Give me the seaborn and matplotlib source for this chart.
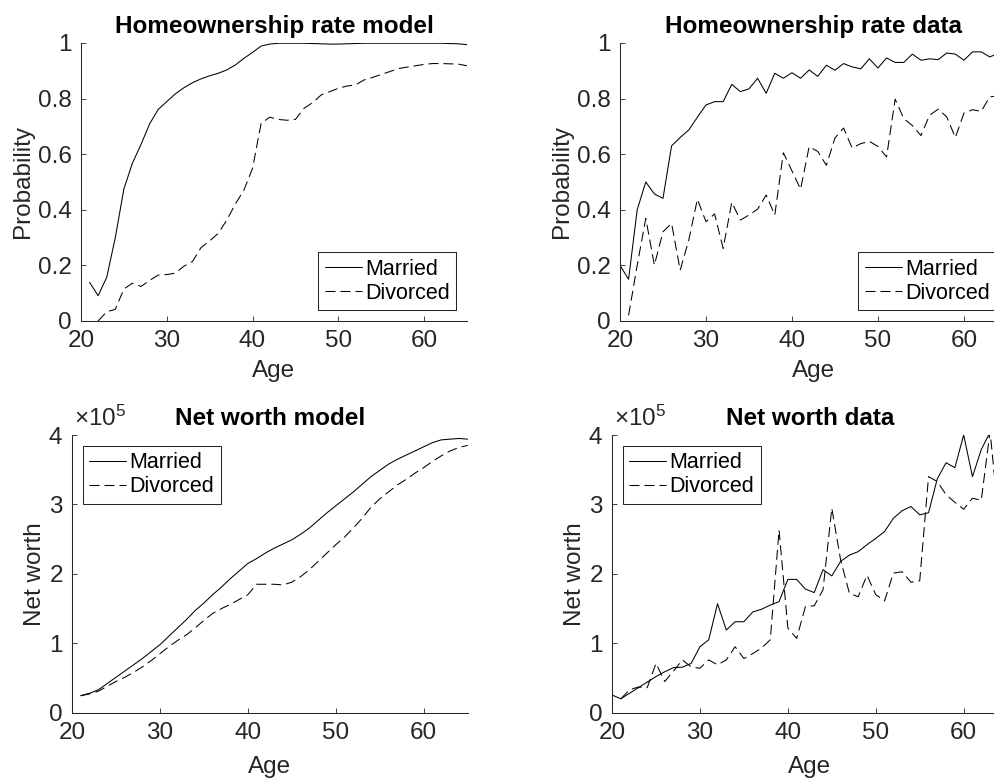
import numpy as np
import pandas as pd
import matplotlib
matplotlib.use("Agg")
import matplotlib.pyplot as plt
import matplotlib.transforms as mtransforms
import seaborn as sns

# ---- data -------------------------------------------------------------
ages_model = list(range(21, 66))

own_model_married = [0.139, 0.091, 0.157, 0.30, 0.475, 0.568, 0.635, 0.709, 0.761, 0.789,
                     0.817, 0.839, 0.857, 0.871, 0.882, 0.891, 0.903, 0.921, 0.945, 0.966,
                     0.989, 0.996, 0.999, 0.999, 0.999, 0.999, 0.998, 0.997, 0.996, 0.996,
                     0.997, 0.998, 0.999, 0.999, 0.999, 0.999, 0.999, 0.999, 0.999, 0.999,
                     0.999, 0.999, 0.998, 0.997, 0.994]
ages_own_model_div = list(range(22, 66))
own_model_divorced = [0.0, 0.033, 0.042, 0.115, 0.136, 0.124, 0.146, 0.165, 0.167, 0.172,
                      0.197, 0.214, 0.264, 0.288, 0.315, 0.363, 0.421, 0.471, 0.549, 0.711,
                      0.733, 0.725, 0.722, 0.725, 0.765, 0.785, 0.813, 0.825, 0.837, 0.845,
                      0.849, 0.867, 0.876, 0.887, 0.897, 0.908, 0.913, 0.918, 0.923, 0.926,
                      0.926, 0.925, 0.924, 0.918]

ages_data_married = list(range(20, 66))
own_data_married = [0.20, 0.15, 0.40, 0.50, 0.457, 0.441, 0.63, 0.66, 0.687, 0.733,
                    0.777, 0.789, 0.789, 0.851, 0.825, 0.835, 0.873, 0.819, 0.891, 0.873,
                    0.893, 0.873, 0.903, 0.88, 0.92, 0.902, 0.926, 0.914, 0.907, 0.943,
                    0.91, 0.946, 0.93, 0.93, 0.96, 0.938, 0.943, 0.94, 0.964, 0.96,
                    0.938, 0.968, 0.968, 0.95, 0.962, 0.955]
ages_data_divorced = list(range(21, 66))
own_data_divorced = [0.02, 0.20, 0.369, 0.201, 0.321, 0.351, 0.183, 0.291, 0.438, 0.357,
                     0.385, 0.261, 0.427, 0.363, 0.381, 0.402, 0.453, 0.381, 0.605, 0.54,
                     0.474, 0.627, 0.61, 0.56, 0.658, 0.694, 0.622, 0.638, 0.646, 0.628,
                     0.59, 0.798, 0.728, 0.703, 0.667, 0.74, 0.762, 0.734, 0.66, 0.748,
                     0.76, 0.754, 0.806, 0.81, 0.80]

nw_model_married = [24500, 28000, 33000, 42000, 51000, 60000, 69000, 78000, 88000, 98000,
                    110000, 122000, 134000, 147000, 158000, 170000, 181000, 193000, 204000, 215000,
                    222000, 230000, 237000, 243000, 249000, 257000, 266000, 277000, 288000, 298000,
                    308000, 318000, 329000, 340000, 349000, 358000, 365000, 371000, 377000, 383000,
                    389000, 393000, 394000, 395000, 394000]
nw_model_divorced = [24500, 27000, 31000, 38000, 45000, 51000, 58000, 66000, 75000, 85000,
                     95000, 104000, 112000, 122000, 133000, 143000, 150000, 156000, 163000, 170000,
                     185000, 185000, 185000, 184000, 188000, 196000, 206000, 218000, 230000, 242000,
                     253000, 266000, 280000, 296000, 308000, 318000, 328000, 336000, 345000, 353000,
                     362000, 370000, 377000, 382000, 385000]

nw_data_married = [25500, 20000, 28000, 36000, 44000, 52000, 59000, 65000, 65500, 71000,
                   95000, 105000, 157000, 119000, 131000, 131000, 145000, 149000, 155000, 160000,
                   192000, 192000, 178000, 173000, 206000, 197000, 218000, 227000, 232000, 242000,
                   251000, 261000, 280000, 291000, 297000, 285000, 288000, 337000, 360000, 353000,
                   400000, 340000, 379000, 404000, 420000, 410000]
nw_data_divorced = [20000, 33000, 37000, 36000, 71000, 45000, 60000, 76000, 66000, 64000,
                    76000, 69000, 76000, 95000, 78000, 85000, 93000, 105000, 263000, 122000,
                    107000, 153000, 154000, 177000, 294500, 220000, 172000, 167000, 198000, 170000,
                    161000, 201000, 203000, 188000, 190000, 340000, 333000, 314000, 303000, 293000,
                    309000, 306000, 405000, 277000, 300000]

panels = [
    dict(title="Homeownership rate model", ylabel="Probability",
         married=(ages_model, own_model_married), divorced=(ages_own_model_div, own_model_divorced),
         rect=[0.0814, 0.5885, 0.3879, 0.3564], ylim=(0, 1), loc="lower right", sci=False,
         xlabelpad=5.5, ylabelpad=3),
    dict(title="Homeownership rate data", ylabel="Probability",
         married=(ages_data_married, own_data_married), divorced=(ages_data_divorced, own_data_divorced),
         rect=[0.6231, 0.5885, 0.3889, 0.3564], ylim=(0, 1), loc="lower right", sci=False,
         xlabelpad=5.5, ylabelpad=3),
    dict(title="Net worth model", ylabel="Net worth",
         married=(ages_model, nw_model_married), divorced=(ages_model, nw_model_divorced),
         rect=[0.0724, 0.0863, 0.3976, 0.3560], ylim=(0, 400000), loc="upper left", sci=True,
         xlabelpad=9, ylabelpad=1.5),
    dict(title="Net worth data", ylabel="Net worth",
         married=(ages_data_married, nw_data_married), divorced=(ages_data_divorced, nw_data_divorced),
         rect=[0.6151, 0.0863, 0.3976, 0.3560], ylim=(0, 400000), loc="upper left", sci=True,
         xlabelpad=9, ylabelpad=1.5),
]

# ---- style ------------------------------------------------------------
sns.set_theme(style="ticks")
plt.rcParams["font.family"] = ["Liberation Sans", "DejaVu Sans"]
plt.rcParams["mathtext.fontset"] = "custom"
plt.rcParams["mathtext.rm"] = "Liberation Sans"
plt.rcParams["mathtext.it"] = "Liberation Sans:italic"
plt.rcParams["axes.unicode_minus"] = False

ink = "#262626"
tick_fs = 17.5
legend_fs = 15.5
title_fs = 17.5
line_w = 0.75
dash = (0, (9.6, 4.8))

fig = plt.figure(figsize=(9.95, 7.8), dpi=100)

for p in panels:
    ax = fig.add_axes(p["rect"])
    xm, ym = p["married"]
    xd, yd = p["divorced"]
    sns.lineplot(x=xm, y=ym, ax=ax, color="black", lw=line_w, label="Married")
    sns.lineplot(x=xd, y=yd, ax=ax, color="black", lw=line_w, linestyle=dash, label="Divorced")

    ax.set_xlim(20, 65)
    ax.set_ylim(*p["ylim"])
    ax.set_xticks([20, 30, 40, 50, 60])
    if p["sci"]:
        ax.set_yticks([0, 100000, 200000, 300000, 400000])
        ax.ticklabel_format(style="sci", axis="y", scilimits=(0, 0), useMathText=True)
        off = ax.yaxis.get_offset_text()
        off.set_fontsize(tick_fs)
        off.set_color(ink)
        # lift the exponent label a little above the axis top
        off.set_transform(off.get_transform()
                          + mtransforms.ScaledTranslation(0.02, 0.05, fig.dpi_scale_trans))
    else:
        ax.set_yticks([0, 0.2, 0.4, 0.6, 0.8, 1.0])
        ax.yaxis.set_major_formatter(matplotlib.ticker.FuncFormatter(lambda v, _: f"{v:g}"))

    for side in ("top", "right"):
        ax.spines[side].set_visible(False)
    for side in ("left", "bottom"):
        ax.spines[side].set_color(ink)
        ax.spines[side].set_linewidth(0.75)
    ax.tick_params(axis="both", direction="in", length=3.6, width=0.6, color=ink,
                   labelsize=tick_fs, labelcolor=ink)
    ax.tick_params(axis="x", pad=6.5)
    ax.tick_params(axis="y", pad=6.5)

    ax.set_title(p["title"], fontsize=title_fs, fontweight="bold", color="black", pad=7)
    ax.set_xlabel("Age", fontsize=tick_fs, color=ink, labelpad=p["xlabelpad"])
    ax.set_ylabel(p["ylabel"], fontsize=tick_fs, color=ink, labelpad=p["ylabelpad"])

    leg = ax.legend(loc=p["loc"], fontsize=legend_fs, frameon=True, fancybox=False,
                    framealpha=1, edgecolor=ink, handlelength=1.72, handletextpad=0.15,
                    borderpad=0.3, labelspacing=0.15, borderaxespad=0.5)
    leg.get_frame().set_linewidth(0.75)
    for t in leg.get_texts():
        t.set_color("black")

fig.savefig("out.png", dpi=100)
